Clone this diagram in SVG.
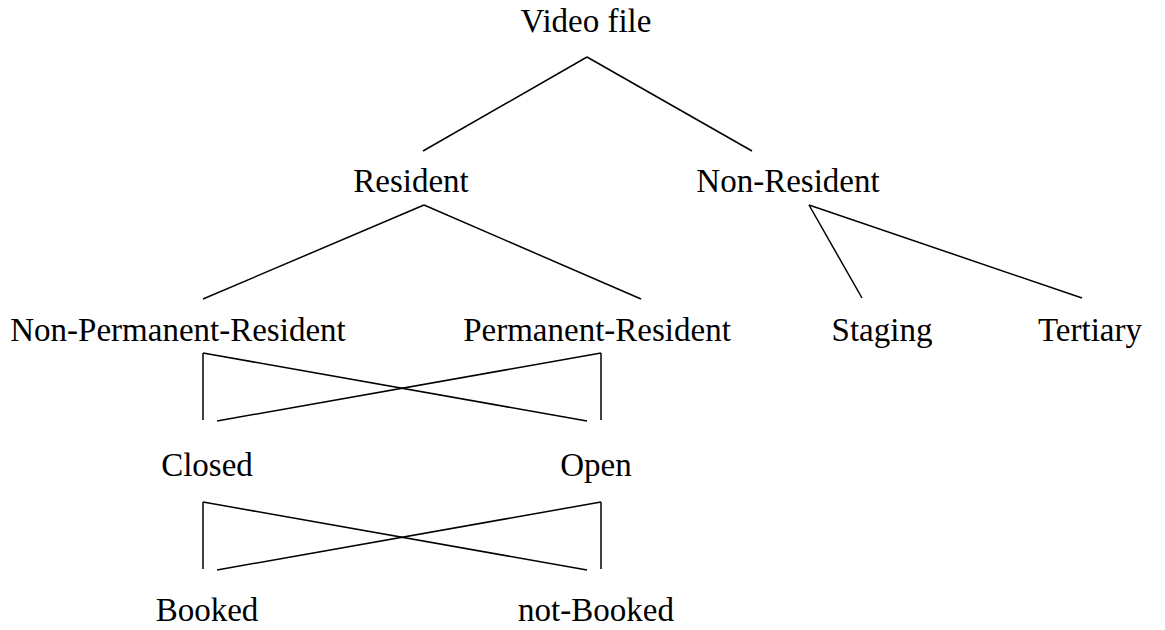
<svg xmlns="http://www.w3.org/2000/svg" width="1165" height="630" viewBox="0 0 1165 630">
<style>
text{font-family:"Liberation Serif","Times New Roman",serif;font-size:33px;fill:#000;text-anchor:middle}
line{stroke:#000;stroke-width:1.5;fill:none}
</style>
<rect width="1165" height="630" fill="#fff"/>
<g id="connectors">
<line x1="587" y1="57" x2="423" y2="151"/>
<line x1="587" y1="57" x2="752" y2="151"/>
<line x1="424" y1="205" x2="203" y2="299"/>
<line x1="424" y1="205" x2="641" y2="299"/>
<line x1="809" y1="205" x2="862" y2="298"/>
<line x1="809" y1="205" x2="1082" y2="298"/>
<line x1="203" y1="353" x2="203" y2="420"/>
<line x1="203" y1="353" x2="587" y2="421"/>
<line x1="601" y1="353" x2="601" y2="420"/>
<line x1="601" y1="353" x2="217" y2="421"/>
<line x1="203" y1="502" x2="203" y2="569"/>
<line x1="203" y1="502" x2="587" y2="570"/>
<line x1="601" y1="502" x2="601" y2="569"/>
<line x1="601" y1="502" x2="217" y2="570"/>
</g>
<g id="video-file"><text x="586" y="32">Video file</text></g>
<g id="resident"><text x="411" y="192">Resident</text></g>
<g id="non-resident"><text x="788" y="192">Non-Resident</text></g>
<g id="non-permanent-resident"><text x="178" y="341">Non-Permanent-Resident</text></g>
<g id="permanent-resident"><text x="597" y="341">Permanent-Resident</text></g>
<g id="staging"><text x="882" y="341">Staging</text></g>
<g id="tertiary"><text x="1090" y="341">Tertiary</text></g>
<g id="closed"><text x="207" y="476">Closed</text></g>
<g id="open"><text x="596" y="476">Open</text></g>
<g id="booked"><text x="207" y="621">Booked</text></g>
<g id="not-booked"><text x="596" y="621">not-Booked</text></g>
</svg>
